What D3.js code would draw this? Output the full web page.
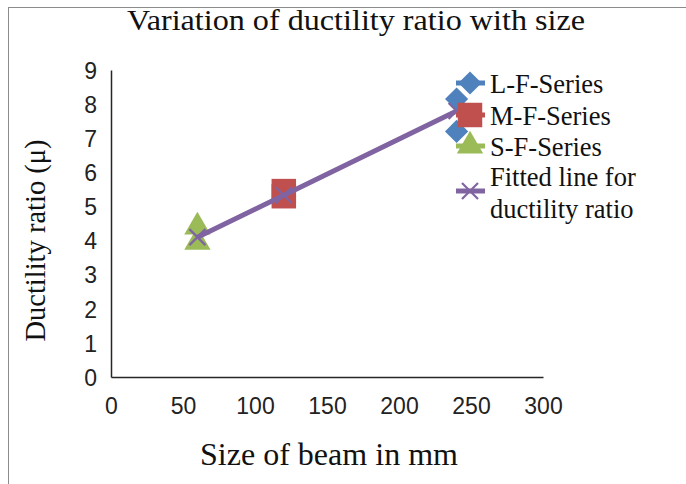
<!DOCTYPE html>
<html>
<head>
<meta charset="utf-8">
<script src="https://cdn.jsdelivr.net/npm/d3@7/dist/d3.min.js"></script>
<style>
  html, body { margin: 0; padding: 0; background: #fff; }
  svg { display: block; }
</style>
</head>
<body>
<svg id="chart" width="686" height="484"></svg>
<script>
// Beam size (mm) against measured ductility ratio for each specimen group
const lfSize = [240, 240];
const lfDuctility = [8.15, 7.2];
const mfSize = [120, 120];
const mfDuctility = [5.45, 5.3];
const sfSize = [60, 60];
const sfDuctility = [4.4, 3.95];

// Linear fit through the three beam sizes
const fitSize = [60, 120, 240];
const fitDuctility = [4.1, 5.33, 7.8];

const xTicks = [0, 50, 100, 150, 200, 250, 300];
const yTicks = [0, 1, 2, 3, 4, 5, 6, 7, 8, 9];

const chartTitle = "Variation of ductility ratio with size";
const xTitle = "Size of beam in mm";
const yTitle = "Ductility ratio (\u03bc)";

const legendItems = [
  { lines: ["L-F-Series"], color: "#4F81BD", kind: "diamond" },
  { lines: ["M-F-Series"], color: "#C0504D", kind: "square" },
  { lines: ["S-F-Series"], color: "#9BBB59", kind: "triangle" },
  { lines: ["Fitted line for", "ductility ratio"], color: "#8064A2", kind: "cross" }
];

const svg = d3.select("#chart");
const W = 686, H = 484;
const plot = { left: 111, right: 543, top: 70, bottom: 377 };

const serif = "'Liberation Serif', 'Times New Roman', serif";
const sans = "'Liberation Sans', Arial, sans-serif";

// outer chart frame
svg.append("rect")
  .attr("x", 8.5).attr("y", 7.5)
  .attr("width", W + 10).attr("height", H + 10)
  .attr("fill", "#fff").attr("stroke", "#8c8c8c").attr("stroke-width", 1);

const x = d3.scaleLinear().domain([0, 300]).range([plot.left, plot.right]);
const y = d3.scaleLinear().domain([0, 9]).range([plot.bottom, plot.top]);

// axes
const xAxis = d3.axisBottom(x).tickValues(xTicks).tickSize(0).tickPadding(21);
const yAxis = d3.axisLeft(y).tickValues(yTicks).tickSize(0).tickPadding(14);

const gx = svg.append("g").attr("transform", `translate(0,${plot.bottom})`).call(xAxis);
const gy = svg.append("g").attr("transform", `translate(${plot.left},0)`).call(yAxis);
[gx, gy].forEach(g => {
  g.select(".domain").attr("stroke", "#262626").attr("stroke-width", 1.5);
  g.selectAll("text").attr("font-family", sans).attr("font-size", 23).attr("fill", "#222");
});
gy.selectAll("text").attr("dy", "0.36em");

// title and axis titles
svg.append("text")
  .attr("x", 356).attr("y", 30)
  .attr("text-anchor", "middle")
  .attr("font-family", serif).attr("font-size", 30).attr("fill", "#111")
  .attr("textLength", 458).attr("lengthAdjust", "spacingAndGlyphs")
  .text(chartTitle);

svg.append("text")
  .attr("x", (plot.left + plot.right) / 2 + 2).attr("y", 465)
  .attr("text-anchor", "middle")
  .attr("font-family", serif).attr("font-size", 31).attr("fill", "#111")
  .attr("textLength", 258).attr("lengthAdjust", "spacingAndGlyphs")
  .text(xTitle);

svg.append("text")
  .attr("transform", `translate(45,${(plot.top + plot.bottom) / 2 + 17}) rotate(-90)`)
  .attr("text-anchor", "middle")
  .attr("font-family", serif).attr("font-size", 28.5).attr("fill", "#111")
  .text(yTitle);

// marker drawing helpers
function drawMarker(g, kind, color, cx, cy) {
  if (kind === "cross") {
    const s = 8;
    g.append("path")
      .attr("d", `M${cx - s},${cy - s}L${cx + s},${cy + s}M${cx - s},${cy + s}L${cx + s},${cy - s}`)
      .attr("stroke", color).attr("stroke-width", 2.2).attr("fill", "none");
    return;
  }
  if (kind === "diamond") {
    // square turned 45 degrees
    g.append("path")
      .attr("d", d3.symbol().type(d3.symbolSquare).size(270)())
      .attr("transform", `translate(${cx},${cy}) rotate(45)`)
      .attr("fill", color);
    return;
  }
  const sizes = { square: 600, triangle: 300 };
  const symbols = { square: d3.symbolSquare, triangle: d3.symbolTriangle };
  g.append("path")
    .attr("d", d3.symbol().type(symbols[kind]).size(sizes[kind])())
    .attr("transform", `translate(${cx},${cy})`)
    .attr("fill", color);
}

const marks = svg.append("g");
function series(sizes, vals, kind, color) {
  sizes.forEach((s, i) => drawMarker(marks, kind, color, x(s), y(vals[i])));
}
series(sfSize, sfDuctility, "triangle", "#9BBB59");
series(mfSize, mfDuctility, "square", "#C0504D");
series(lfSize, lfDuctility, "diamond", "#4F81BD");

// fitted line with cross markers
const line = d3.line().x(d => x(d[0])).y(d => y(d[1]));
const fitPts = fitSize.map((s, i) => [s, fitDuctility[i]]);
marks.append("path")
  .attr("d", line(fitPts))
  .attr("fill", "none").attr("stroke", "#8064A2").attr("stroke-width", 5);
fitPts.forEach(p => drawMarker(marks, "cross", "#8064A2", x(p[0]), y(p[1])));

// legend
const legend = svg.append("g");
const rowY = [83, 115, 146, 191];
legendItems.forEach((item, i) => {
  const cy = rowY[i];
  legend.append("line")
    .attr("x1", 456).attr("x2", 485).attr("y1", cy).attr("y2", cy)
    .attr("stroke", item.color).attr("stroke-width", 5);
  drawMarker(legend, item.kind, item.color, 470, cy);
  const t = legend.append("text")
    .attr("font-family", serif).attr("font-size", 26.5).attr("fill", "#111");
  if (item.lines.length === 1) {
    t.append("tspan").attr("x", 490).attr("y", cy + 10).text(item.lines[0]);
  } else {
    t.append("tspan").attr("x", 490).attr("y", cy - 5).text(item.lines[0]);
    t.append("tspan").attr("x", 490).attr("y", cy + 27).text(item.lines[1]);
  }
});
</script>
</body>
</html>
